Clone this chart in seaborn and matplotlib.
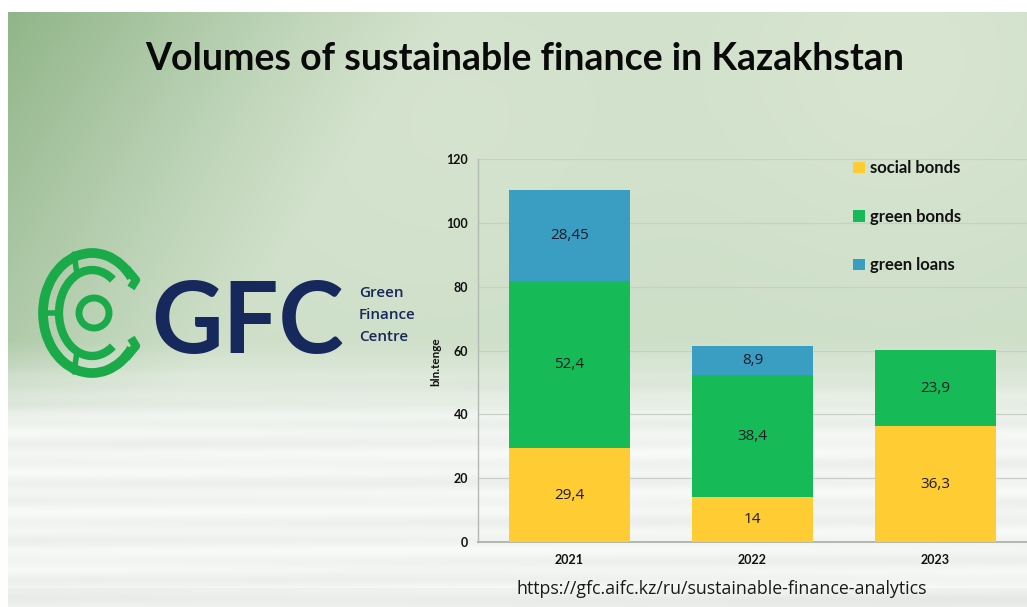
import numpy as np
import pandas as pd
import matplotlib
matplotlib.use("Agg")
import matplotlib.pyplot as plt
from matplotlib.patches import Patch, Arc, Circle
import seaborn as sns

# ---------------- data ----------------
years = ["2021", "2022", "2023"]
social_bonds = [29.4, 14, 36.3]
green_bonds = [52.4, 38.4, 23.9]
green_loans = [28.45, 8.9, 0]
yticks = [0, 20, 40, 60, 80, 100, 120]

title = "Volumes of sustainable finance in Kazakhstan"
ylabel = "bln.tenge"
url = "https://gfc.aifc.kz/ru/sustainable-finance-analytics"
series_names = ["social bonds", "green bonds", "green loans"]

C_SOCIAL = "#FFCC33"
C_GBONDS = "#16BA57"
C_GLOANS = "#3A9EC2"

sns.set_theme(style="white")
plt.rcParams["font.family"] = ["Lato", "DejaVu Sans"]

W, H = 1027, 607
fig = plt.figure(figsize=(W / 100, H / 100), dpi=100)

# ---------------- background ----------------
bg = fig.add_axes([0, 0, 1, 1])
bg.set_xlim(0, W)
bg.set_ylim(H, 0)
bg.axis("off")

yy, xx = np.mgrid[0:H, 0:W].astype(float)
top = np.array([0.80, 0.87, 0.78])
dark = np.array([0.55, 0.70, 0.52])
light = np.array([0.88, 0.92, 0.85])
white = np.array([0.95, 0.96, 0.95])
d = np.clip(1 - (xx / 460 + yy / 650), 0, 1)[..., None]
img = top * (1 - d) + dark * d
for cx, cy, r, s in [(900, 60, 160, 0.55), (470, 110, 140, 0.35), (300, 200, 180, 0.15)]:
    g = np.exp(-(((xx - cx) ** 2 + (yy - cy) ** 2) / (2 * r ** 2)))[..., None] * s
    img = img * (1 - g) + light * g
t = np.clip((yy - 340) / 90, 0, 1)[..., None]
streak = (0.012 * np.sin(yy / 3.1) + 0.01 * np.sin(yy / 7.3 + xx / 260))[..., None]
img = img * (1 - t) + (white + streak) * t
img[588:, :] = img[588:, :] * 0.97
img = np.clip(img, 0, 1)
img[:12, :] = 1.0
img[:, :8] = 1.0
bg.imshow(img, extent=[0, W, H, 0], aspect="auto", zorder=0, interpolation="bilinear")

# ---------------- logo ----------------
LG = "#1BAA4A"
cx, cy = 92, 313
bg.add_patch(Arc((cx, cy), 98, 120, theta1=42, theta2=318, lw=7, color=LG, zorder=2))
bg.add_patch(Arc((cx, cy), 66, 86, theta1=58, theta2=302, lw=6, color=LG, zorder=2))
bg.add_patch(Circle((cx + 2, cy), 15, fill=False, lw=5, color=LG, zorder=2))
bg.plot([126, 136, 131], [268, 280, 288], color=LG, lw=6, solid_capstyle="butt", zorder=2)
bg.plot([126, 136, 131], [358, 346, 338], color=LG, lw=6, solid_capstyle="butt", zorder=2)
bg.plot([74, 77], [254, 274], color=LG, lw=4, zorder=2)
bg.plot([74, 77], [372, 352], color=LG, lw=4, zorder=2)
bg.plot([44, 60], [313, 313], color=LG, lw=4, zorder=2)

NAVY = "#17285C"
bg.text(151, 353, "GFC", fontsize=71, fontweight="bold", color=NAVY,
        ha="left", va="baseline")
for i, w in enumerate(["Green", "Finance", "Centre"]):
    bg.text(359, 293 + 22 * i, w, fontsize=11, color=NAVY, fontweight="semibold",
            ha="left", va="center", family=["Open Sans", "DejaVu Sans"])

# ---------------- title & url ----------------
bg.text(525, 59, title, fontsize=27, fontweight="bold", color="#0a0a0a",
        ha="center", va="center")
bg.text(722, 589, url, fontsize=12.8, color="#1a1a1a", ha="center", va="center",
        family=["Open Sans", "DejaVu Sans"])

# ---------------- chart ----------------
ax = fig.add_axes([478 / W, 1 - 542 / H, (W - 478) / W, 383 / H])
ax.set_facecolor("none")

df = pd.DataFrame({"year": years, "social": social_bonds,
                   "gbonds": green_bonds, "gloans": green_loans})
df["s1"] = df["social"]
df["s2"] = df["social"] + df["gbonds"]
df["s3"] = df["s2"] + df["gloans"]

bw = 0.656
for col, c in (("s3", C_GLOANS), ("s2", C_GBONDS), ("s1", C_SOCIAL)):
    sns.barplot(data=df, x="year", y=col, color=c, saturation=1, width=bw, ax=ax,
                linewidth=0, edgecolor="none", zorder=3)

def fmt(v):
    return f"{v:g}".replace(".", ",")

for i in range(len(years)):
    lo = 0
    for v in (social_bonds[i], green_bonds[i], green_loans[i]):
        if v > 0:
            ax.text(i, lo + v / 2, fmt(v), ha="center", va="center", fontsize=11,
                    color="#1c1c28", zorder=5, family=["Open Sans", "DejaVu Sans"])
        lo += v

ax.set_xlim(-0.5, 2.5)
ax.set_ylim(0, 120)
ax.set_yticks(yticks)
ax.grid(axis="y", color="#c9cfc6", lw=0.9, zorder=0)
ax.set_axisbelow(True)
for s in ["top", "right"]:
    ax.spines[s].set_visible(False)
ax.spines["left"].set_color("#b5b9b3")
ax.spines["bottom"].set_color("#a8aca6")
ax.spines["left"].set_linewidth(1)
ax.spines["bottom"].set_linewidth(1.2)
ax.tick_params(axis="y", length=0, pad=7)
ax.tick_params(axis="x", length=0, pad=9)
for lab in ax.get_yticklabels() + ax.get_xticklabels():
    lab.set_fontweight("bold")
    lab.set_fontsize(9)
    lab.set_color("#111111")
ax.set_xlabel("")
ax.set_ylabel(ylabel, fontsize=8.5, fontweight="bold", color="#111111")
ax.yaxis.set_label_coords(-0.067, 0.47)

handles = [Patch(facecolor=c, edgecolor="none") for c in (C_SOCIAL, C_GBONDS, C_GLOANS)]
leg = fig.legend(handles, series_names, loc="upper left",
                 bbox_to_anchor=(845 / W, 1 - 152 / H), frameon=False,
                 prop={"weight": "bold", "size": 12}, labelspacing=1.95,
                 handlelength=0.7, handleheight=0.7, handletextpad=0.3, borderpad=0)
for t in leg.get_texts():
    t.set_color("#111111")

fig.savefig("out.png", dpi=100)
